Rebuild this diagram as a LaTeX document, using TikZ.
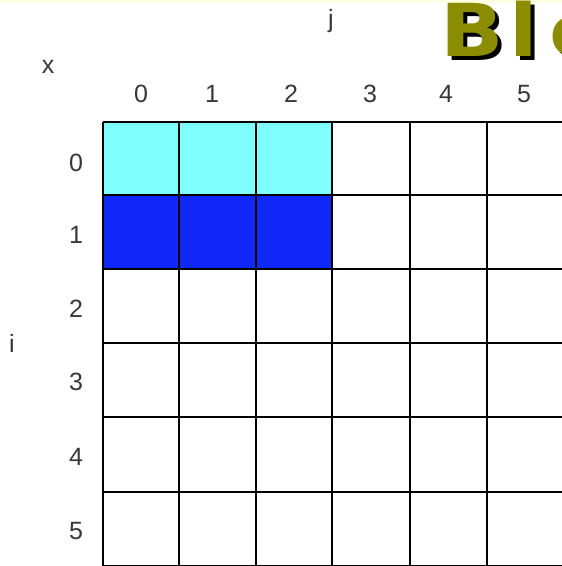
\documentclass[tikz,border=0pt]{standalone}
\usepackage{fontspec}
\setmainfont{Liberation Sans}
\newfontfamily\titlefont{DejaVu Sans}
\definecolor{lightcy}{RGB}{128,255,255}
\definecolor{deepblue}{RGB}{16,40,248}
\definecolor{olivet}{RGB}{140,140,0}
\definecolor{labelgray}{RGB}{55,55,55}
\definecolor{stripy}{RGB}{255,255,228}
\begin{document}
\begin{tikzpicture}[x=1pt,y=-1pt,
  lbl/.style={text=labelgray,font=\fontsize{25}{25}\selectfont,inner sep=0pt},
  gridline/.style={line width=2.2pt,black},
  titletext/.style={anchor=base west,inner sep=0pt,xscale=1.14,font=\titlefont\fontsize{73}{73}\bfseries\selectfont}]
\useasboundingbox (0,0) rectangle (562,566);
\clip (0,0) rectangle (562,566);
\fill[stripy] (0,0) rectangle (562,3);
% highlighted cells
\fill[lightcy] (103,122) rectangle (332,195);
\fill[deepblue] (103,195) rectangle (332,269);
% grid lines
\foreach \xx in {103,179,256,332,410,487,563}
  \draw[gridline] (\xx,122) -- (\xx,567);
\foreach \yy in {122,195,269,343,417,492,566}
  \draw[gridline] (103,\yy) -- (570,\yy);
% column labels
\node[lbl] (c0) at (141,94) {0};
\node[lbl] (c1) at (212,94) {1};
\node[lbl] (c2) at (291,94) {2};
\node[lbl] (c3) at (370,94) {3};
\node[lbl] (c4) at (446,94) {4};
\node[lbl] (c5) at (524,94) {5};
% row labels
\node[lbl] (r0) at (76,163) {0};
\node[lbl] (r1) at (76,235) {1};
\node[lbl] (r2) at (76,309) {2};
\node[lbl] (r3) at (76,382) {3};
\node[lbl] (r4) at (76,457) {4};
\node[lbl] (r5) at (76,531) {5};
% axis labels
\node[lbl] (j) at (331,21) {j};
\node[lbl] (xl) at (48,67) {x};
\node[lbl] (il) at (12,343) {i};
% title fragment
\node[titletext,text=black] (tshadow) at (444,60) {B\kern5pt l\kern10pt o};
\node[titletext,text=olivet] (title) at (440,56) {B\kern5pt l\kern10pt o};
\end{tikzpicture}
\end{document}
